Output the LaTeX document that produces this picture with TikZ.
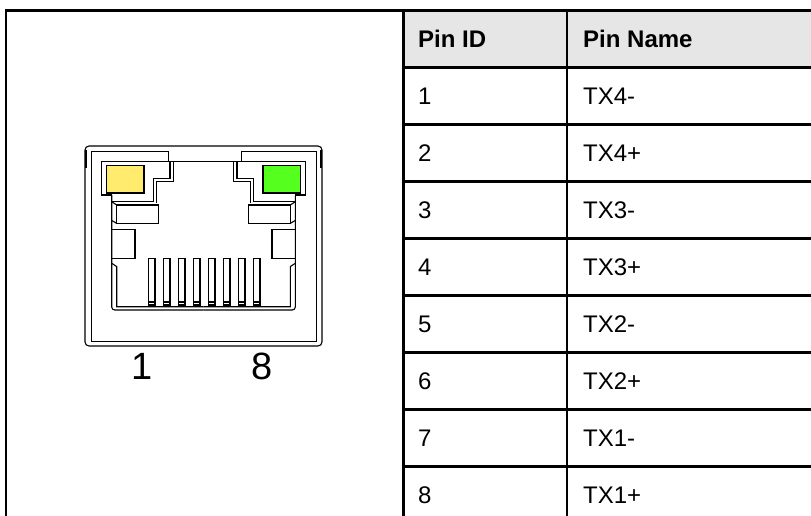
\documentclass[tikz,border=0pt]{standalone}
\usepackage{fontspec}
\setmainfont{Liberation Sans}
\definecolor{headgray}{HTML}{E6E6E6}
\definecolor{ledyellow}{HTML}{FFEC6E}
\definecolor{ledgreen}{HTML}{55FF1E}
\begin{document}
\begin{tikzpicture}[x=1pt,y=-1pt,
  frame/.style={line width=2.2pt},
  jack/.style={line width=1.1pt},
  cell/.style={anchor=base west, inner sep=0pt, font=\fontsize{24}{28}\selectfont},
  headcell/.style={cell, font=\fontsize{24}{28}\selectfont\bfseries},
  digit/.style={inner sep=0pt, font=\fontsize{38}{42}\selectfont}]
  \useasboundingbox (0,0) rectangle (811,516);

  % Header background
  \fill[headgray] (403.5,10.5) rectangle (811,67.5);

  % Frame and table lines
  \draw[frame] (6,516) -- (6,10.5) -- (811,10.5);
  \draw[frame] (403.5,10.5) -- (403.5,516);
  \draw[frame] (566.7,10.5) -- (566.7,516);
  \foreach \r in {1,...,8}
    \draw[frame] (403.5,10.5+57*\r) -- (811,10.5+57*\r);

  % Header texts
  \node[headcell] (pinid) at (418,47.6) {Pin ID};
  \node[headcell] (pinname) at (583,47.6) {Pin Name};

  % Pin rows
  \foreach \sig [count=\r] in {TX4-,TX4+,TX3-,TX3+,TX2-,TX2+,TX1-,TX1+} {
    \node[cell] (id\r) at (418,47.6+57*\r) {\r};
    \node[cell] (sig\r) at (583,47.6+57*\r) {\sig};
  }

  % RJ45 housing
  \draw[jack, rounded corners=4pt] (85,146) rectangle (322,346);
  \draw[jack] (91.7,341.7) -- (91.7,151.7) -- (168.3,151.7) -- (168.3,161.7)
    -- (241.7,161.7) -- (241.7,151.7) -- (316.7,151.7) -- (316.7,341.7) -- cycle;

  % Left half, mirrored for the right half
  \foreach \sc/\sh/\led in {1/0/ledyellow,-1/407/ledgreen} {
    \begin{scope}[xshift=\sh pt, xscale=\sc]
      % housing mark
      \draw[line width=2pt] (86,150) -- (86,168);
      % face edge
      \draw[jack] (203.5,161.7) -- (101.7,161.7) -- (101.7,195) -- (111.7,195);
      \draw[jack, rounded corners=3pt] (111.7,195) -- (111.7,310) -- (203.5,310);
      % step of the opening
      \draw[jack] (170,161.7) -- (170,178.3) -- (153.3,178.3) -- (153.3,201.7);
      \draw[jack] (173.3,161.7) -- (173.3,181.7) -- (156.7,181.7) -- (156.7,203.3);
      % shelf
      \draw[jack] (111.7,201.7) -- (153.3,201.7);
      \draw[jack] (116.7,205) rectangle (158.3,223.3);
      \draw[jack] (111.7,201.7) -- (116.7,205);
      \draw[jack] (111.7,220.5) -- (116.7,223.3);
      % latch window
      \draw[jack] (111.7,229.3) rectangle (135,258.3);
      % lower wall
      \draw[jack] (111.7,263.3) -- (116.7,266.6) -- (116.7,306.7) -- (203.5,306.7);
      % LED
      \filldraw[jack, fill=\led] (106.7,165.7) rectangle (144,193.3);
      \draw[line width=2.2pt] (144,166) -- (144,193.3) -- (107,193.3);
    \end{scope}
  }

  % Contact slots
  \foreach \i in {0,...,7} {
    \draw[jack] (148.3+15*\i,258.3) rectangle ++(6.7,46.7);
    \draw[line width=2pt] (148.3+15*\i,301.5) -- ++(6.7,0);
  }

  % Pin numbers
  \node[digit] (num1) at (142,366) {1};
  \node[digit] (num8) at (262,366) {8};
\end{tikzpicture}
\end{document}
